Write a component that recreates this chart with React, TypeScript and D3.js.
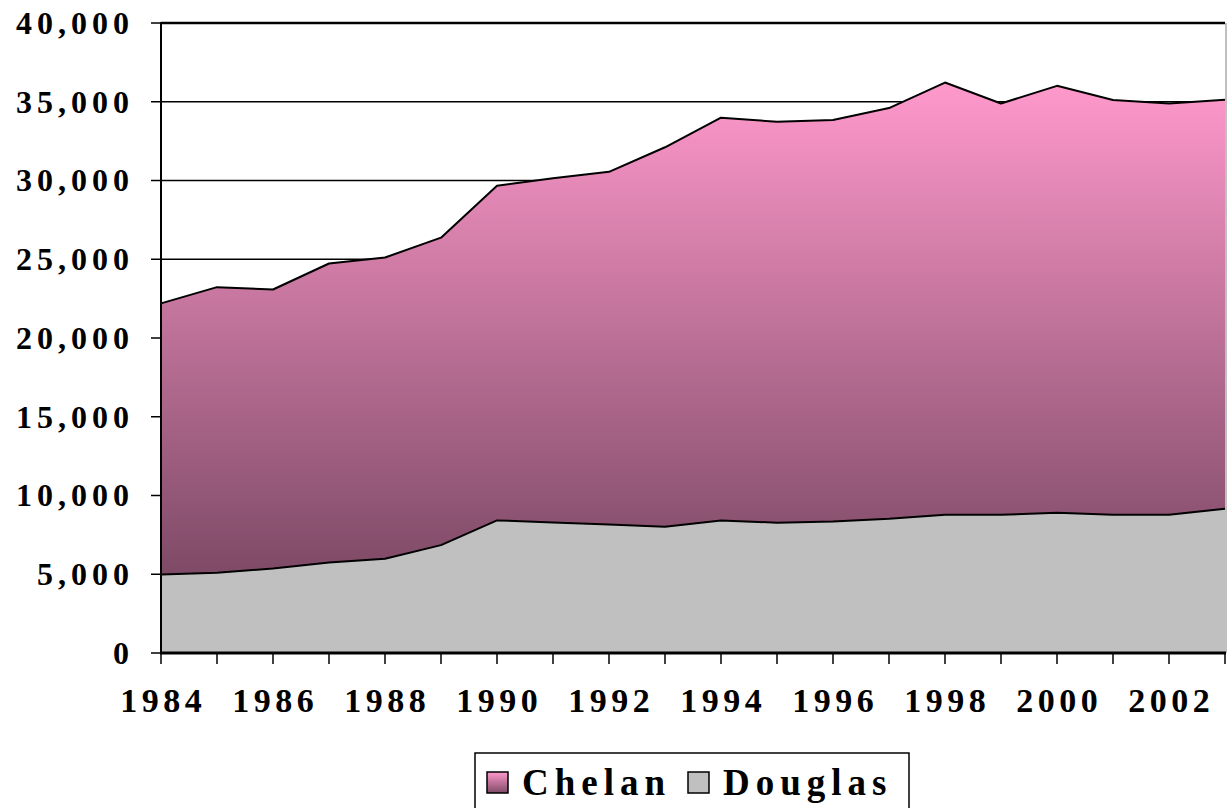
import React, { useEffect, useRef } from "react";
import * as d3 from "d3";

// Values
const years = [
  1984, 1985, 1986, 1987, 1988, 1989, 1990, 1991, 1992, 1993,
  1994, 1995, 1996, 1997, 1998, 1999, 2000, 2001, 2002, 2003,
];
const douglas = [
  4980, 5100, 5360, 5740, 5990, 6850, 8420, 8290, 8160, 8020,
  8420, 8270, 8350, 8520, 8780, 8780, 8900, 8780, 8780, 9160,
];
const chelan = [
  17220, 18130, 17720, 18990, 19120, 19520, 21240, 21860, 22390, 24090,
  25570, 25460, 25490, 26080, 27440, 26110, 27110, 26330, 26110, 25970,
];
const yTicks = [0, 5000, 10000, 15000, 20000, 25000, 30000, 35000, 40000];
const xLabels = [1984, 1986, 1988, 1990, 1992, 1994, 1996, 1998, 2000, 2002];
const legendItems = ["Chelan", "Douglas"];

const App = () => {
  const svgRef = useRef(null);

  useEffect(() => {
    const width = 1227;
    const height = 808;
    const left = 161;
    const right = 1225;
    const top = 23;
    const bottom = 653;
    const font = "'Liberation Serif', 'Times New Roman', serif";

    const svg = d3.select(svgRef.current);
    svg.selectAll("*").remove();
    svg.attr("width", width).attr("height", height);

    const x = d3.scaleLinear().domain([years[0], years[years.length - 1]]).range([left, right]);
    const y = d3.scaleLinear().domain([0, 40000]).range([bottom, top]);

    const rows = years.map((yr, i) => ({ year: yr, Douglas: douglas[i], Chelan: chelan[i] }));
    const stacked = d3.stack().keys(["Douglas", "Chelan"])(rows);

    // gradient for Chelan
    const defs = svg.append("defs");
    const totals = rows.map((r) => r.Douglas + r.Chelan);
    const grad = defs
      .append("linearGradient")
      .attr("id", "chelanGrad")
      .attr("gradientUnits", "userSpaceOnUse")
      .attr("x1", 0)
      .attr("x2", 0)
      .attr("y1", y(d3.max(totals)))
      .attr("y2", y(d3.min(douglas)));
    grad.append("stop").attr("offset", "0%").attr("stop-color", "#ff99cc");
    grad.append("stop").attr("offset", "100%").attr("stop-color", "#7e4a66");

    const legGrad = defs
      .append("linearGradient")
      .attr("id", "legGrad")
      .attr("x1", 0)
      .attr("x2", 0)
      .attr("y1", 0)
      .attr("y2", 1);
    legGrad.append("stop").attr("offset", "0%").attr("stop-color", "#ff99cc");
    legGrad.append("stop").attr("offset", "100%").attr("stop-color", "#7e4a66");

    // gridlines
    svg
      .append("g")
      .selectAll("line")
      .data(yTicks.filter((t) => t > 0))
      .enter()
      .append("line")
      .attr("x1", left)
      .attr("x2", right)
      .attr("y1", (d) => y(d))
      .attr("y2", (d) => y(d))
      .attr("stroke", "#000")
      .attr("stroke-width", (d) => (d === 40000 ? 2.5 : 1.5));

    // right border of plot area
    svg
      .append("line")
      .attr("x1", right + 1)
      .attr("x2", right + 1)
      .attr("y1", top)
      .attr("y2", bottom)
      .attr("stroke", "#808080")
      .attr("stroke-width", 1);

    const area = d3
      .area()
      .x((d) => x(d.data.year))
      .y0((d) => y(d[0]))
      .y1((d) => y(d[1]));

    const fills = { Douglas: "#c0c0c0", Chelan: "url(#chelanGrad)" };

    svg
      .append("g")
      .selectAll("path")
      .data(stacked)
      .enter()
      .append("path")
      .attr("d", area)
      .attr("fill", (d) => fills[d.key]);

    // outline on top of each layer
    const line = d3
      .line()
      .x((d) => x(d.data.year))
      .y((d) => y(d[1]));

    svg
      .append("g")
      .selectAll("path")
      .data(stacked)
      .enter()
      .append("path")
      .attr("d", line)
      .attr("fill", "none")
      .attr("stroke", "#000")
      .attr("stroke-width", 2)
      .attr("stroke-linejoin", "round");

    // y axis
    svg
      .append("line")
      .attr("x1", left)
      .attr("x2", left)
      .attr("y1", top - 1)
      .attr("y2", bottom + 1)
      .attr("stroke", "#000")
      .attr("stroke-width", 2);

    svg
      .append("g")
      .selectAll("line")
      .data(yTicks)
      .enter()
      .append("line")
      .attr("x1", left - 10)
      .attr("x2", left)
      .attr("y1", (d) => y(d))
      .attr("y2", (d) => y(d))
      .attr("stroke", "#000")
      .attr("stroke-width", 1.5);

    const yLs = 5;
    svg
      .append("g")
      .selectAll("text")
      .data(yTicks)
      .enter()
      .append("text")
      .attr("x", 129 + yLs)
      .attr("y", (d) => y(d))
      .attr("dy", "0.34em")
      .attr("text-anchor", "end")
      .attr("font-family", font)
      .attr("font-weight", "bold")
      .attr("font-size", 32)
      .attr("letter-spacing", yLs)
      .text((d) => d3.format(",")(d));

    // x axis
    svg
      .append("line")
      .attr("x1", left - 1)
      .attr("x2", right + 1)
      .attr("y1", bottom)
      .attr("y2", bottom)
      .attr("stroke", "#000")
      .attr("stroke-width", 3);

    svg
      .append("g")
      .selectAll("line")
      .data(years)
      .enter()
      .append("line")
      .attr("x1", (d) => x(d))
      .attr("x2", (d) => x(d))
      .attr("y1", bottom)
      .attr("y2", bottom + 11)
      .attr("stroke", "#000")
      .attr("stroke-width", 1.5);

    const xLs = 4.5;
    svg
      .append("g")
      .selectAll("text")
      .data(xLabels)
      .enter()
      .append("text")
      .attr("x", (d) => x(d) + xLs / 2)
      .attr("y", 712)
      .attr("text-anchor", "middle")
      .attr("font-family", font)
      .attr("font-weight", "bold")
      .attr("font-size", 34)
      .attr("letter-spacing", xLs)
      .text((d) => d);

    // legend
    const leg = svg.append("g");
    leg
      .append("rect")
      .attr("x", 475)
      .attr("y", 753)
      .attr("width", 434)
      .attr("height", 80)
      .attr("fill", "#fff")
      .attr("stroke", "#000")
      .attr("stroke-width", 1.5);

    const legX = [487, 688];
    const legFills = ["url(#legGrad)", "#c0c0c0"];
    legendItems.forEach((name, i) => {
      leg
        .append("rect")
        .attr("x", legX[i])
        .attr("y", 772)
        .attr("width", 21)
        .attr("height", 21)
        .attr("fill", legFills[i])
        .attr("stroke", "#000")
        .attr("stroke-width", 1.5);
      leg
        .append("text")
        .attr("x", legX[i] + 35)
        .attr("y", 795)
        .attr("font-family", font)
        .attr("font-weight", "bold")
        .attr("font-size", 37)
        .attr("letter-spacing", 6)
        .text(name);
    });
  }, []);

  return (
    <svg
      ref={svgRef}
      style={{ position: "fixed", left: 0, top: 0, background: "#fff" }}
    ></svg>
  );
};

export default App;
